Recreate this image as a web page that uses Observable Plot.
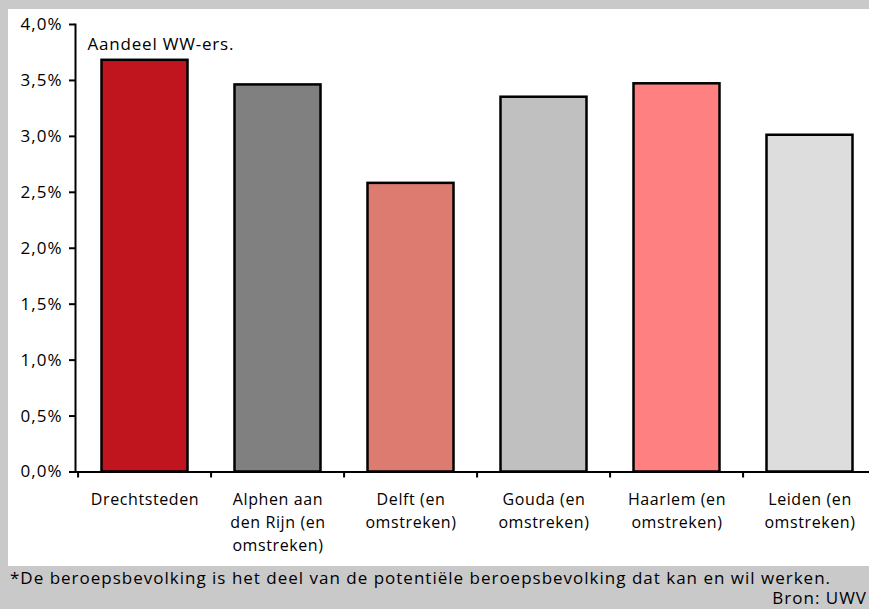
<!DOCTYPE html>
<html>
<head>
<meta charset="utf-8">
<script src="https://cdn.jsdelivr.net/npm/d3@7"></script>
<script src="https://cdn.jsdelivr.net/npm/@observablehq/plot@0.6"></script>
<style>
  html, body { margin: 0; padding: 0; }
  body { width: 869px; height: 609px; overflow: hidden; background: #c9c9c9; position: relative;
         font-family: "Open Sans", "Noto Sans", sans-serif; color: #000; }
  #panel { position: absolute; left: 8px; top: 9px; width: 880px; height: 557px; background: #fff; overflow: hidden; }
  #panel svg text { letter-spacing: 0.6px; }
  #panel svg g.ytick text { letter-spacing: 1px; }
  #panel svg g.series text { letter-spacing: 0.8px; }
  .foot { position: absolute; font-size: 17px; letter-spacing: 1px; white-space: nowrap; line-height: 18px; }
</style>
</head>
<body>
<div id="panel"></div>
<div class="foot" id="note" style="left:10px; top:569px;"></div>
<div class="foot" id="source" style="right:2px; top:589px;"></div>
<script>
const categories = ["Drechtsteden", "Alphen aan den Rijn (en omstreken)", "Delft (en omstreken)", "Gouda (en omstreken)", "Haarlem (en omstreken)", "Leiden (en omstreken)"];
const tickLabels = ["Drechtsteden", "Alphen aan\nden Rijn (en\nomstreken)", "Delft (en\nomstreken)", "Gouda (en\nomstreken)", "Haarlem (en\nomstreken)", "Leiden (en\nomstreken)"];
const values = [3.68, 3.46, 2.58, 3.35, 3.47, 3.01];
const colors = ["#c0141f", "#808080", "#dd7b70", "#c0c0c0", "#ff8080", "#dddddd"];
const yTicks = [0, 0.5, 1, 1.5, 2, 2.5, 3, 3.5, 4];
const seriesLabel = "Aandeel WW-ers.";
const noteText = "*De beroepsbevolking is het deel van de potentiële beroepsbevolking dat kan en wil werken.";
const sourceText = "Bron: UWV";

const data = categories.map((c, i) => ({cat: c, value: values[i]}));

const W = 870, H = 557, ML = 67, MR = 0, MT = 15, MB = 94.5;
const halfStep = (W - ML - MR) / categories.length / 2;
const fmt = d => d.toFixed(1).replace(".", ",") + "%";

const chart = Plot.plot({
  width: W, height: H,
  marginLeft: ML, marginRight: MR, marginTop: MT, marginBottom: MB,
  style: {fontFamily: "'Open Sans', 'Noto Sans', sans-serif", fontSize: "16px", color: "#000", background: "transparent"},
  x: {domain: categories, padding: 0},
  y: {domain: [0, 4]},
  color: {domain: categories, range: colors},
  marks: [
    Plot.barY(data, {x: "cat", y: "value", fill: "cat", stroke: "#000", strokeWidth: 2.5, insetLeft: 23.5, insetRight: 23.5}),
    Plot.axisY({ticks: yTicks, tickFormat: fmt, tickSize: 6, tickPadding: 7, strokeWidth: 2, label: null, fontSize: 17, className: "ytick"}),
    Plot.frame({anchor: "left", strokeWidth: 2}),
    Plot.ruleY([0], {strokeWidth: 2}),
    Plot.axisX({tickSize: 6, tickFormat: () => "", dx: -halfStep, strokeWidth: 2, label: null}),
    Plot.axisX({tickSize: 0, tickPadding: 17, tickFormat: (d) => tickLabels[categories.indexOf(d)], lineHeight: 1.44, label: null, fontSize: 16}),
    Plot.text([seriesLabel], {frameAnchor: "top-left", dx: 12, dy: 13, fontSize: 17, className: "series"})
  ]
});
document.getElementById("panel").appendChild(chart);
document.getElementById("note").textContent = noteText;
document.getElementById("source").textContent = sourceText;
</script>
</body>
</html>
